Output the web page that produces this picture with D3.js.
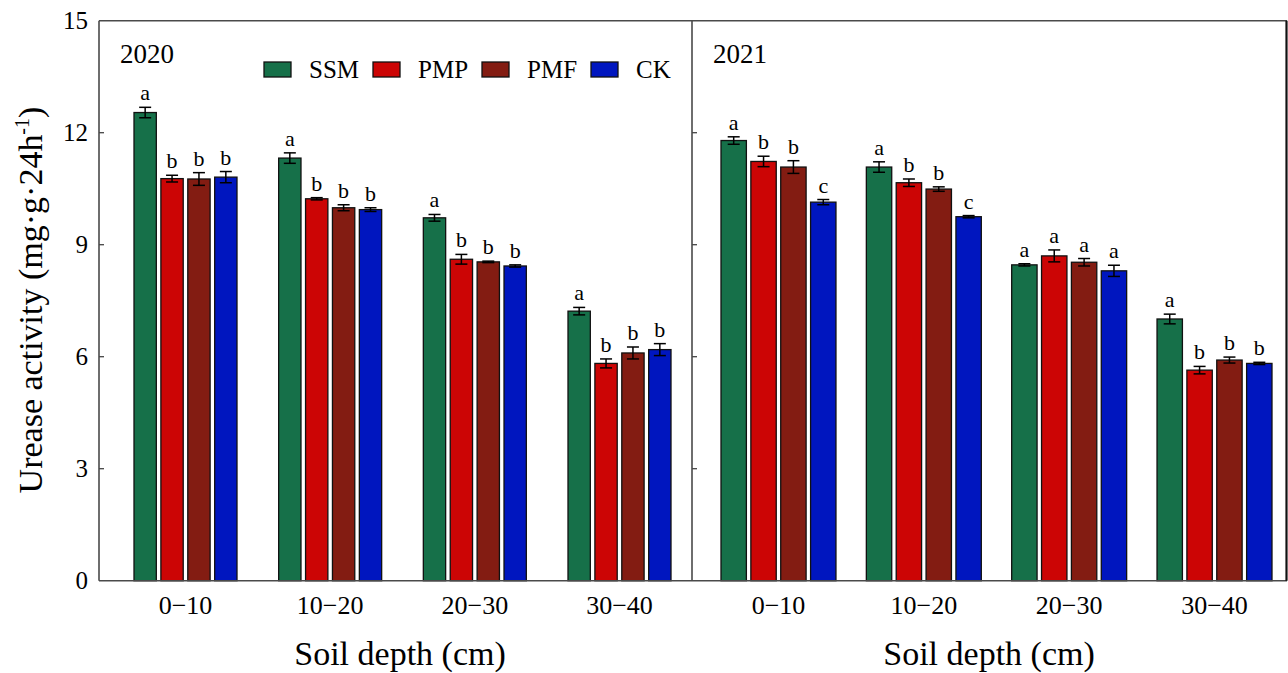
<!doctype html>
<html lang="en">
<head>
  <meta charset="utf-8">
  <style>
    body { margin: 0; background: #fff; }
    text { font-family: "Liberation Serif", "Times New Roman", serif; fill: #000; }
  </style>
</head>
<body>
  <script src="https://d3js.org/d3.v7.min.js"></script>
  <div id="chart"></div>
  <script>
    // categories
    var depths = ["0\u221210", "10\u221220", "20\u221230", "30\u221240"];
    var treatments = ["SSM", "PMP", "PMF", "CK"];
    var colors = ["#167049", "#cc0505", "#831c12", "#0016bf"];
    var yTicks = [0, 3, 6, 9, 12, 15];

    // 2020 means / error bars / letters (rows = depth, cols = treatment)
    var mean2020 = [[12.54, 10.77, 10.76, 10.81], [11.32, 10.23, 9.99, 9.94], [9.72, 8.61, 8.54, 8.43], [7.22, 5.82, 6.10, 6.19]];
    var err2020 = [[0.14, 0.09, 0.17, 0.15], [0.14, 0.03, 0.08, 0.05], [0.09, 0.13, 0.02, 0.03], [0.10, 0.12, 0.16, 0.16]];
    var sig2020 = [["a", "b", "b", "b"], ["a", "b", "b", "b"], ["a", "b", "b", "b"], ["a", "b", "b", "b"]];

    // 2021
    var mean2021 = [[11.79, 11.23, 11.08, 10.14], [11.08, 10.66, 10.49, 9.75], [8.46, 8.70, 8.53, 8.30], [7.01, 5.64, 5.91, 5.82]];
    var err2021 = [[0.10, 0.14, 0.17, 0.07], [0.14, 0.10, 0.06, 0.03], [0.03, 0.16, 0.10, 0.15], [0.13, 0.10, 0.08, 0.03]];
    var sig2021 = [["a", "b", "b", "c"], ["a", "b", "b", "c"], ["a", "a", "a", "a"], ["a", "b", "b", "b"]];

    var width = 1288, height = 673;
    var top0 = 20.7, bottom0 = 580.7;

    var svg = d3.select("#chart").append("svg")
      .attr("width", width)
      .attr("height", height);

    var y = d3.scaleLinear().domain([0, 15]).range([bottom0, top0]);

    // panel settings: frame edges, range covered by the bar groups, spacing
    var panels = [
      { year: "2020", left: 99, right: 692, g0: 134, g1: 671, pad: 0.288, barPad: 0.17,
        mean: mean2020, err: err2020, sig: sig2020, titleX: 400 },
      { year: "2021", left: 692, right: 1287, g0: 721, g1: 1272, pad: 0.209, barPad: 0.15,
        mean: mean2021, err: err2021, sig: sig2021, titleX: 989 }
    ];

    panels.forEach(function (p, pi) {
      var x0 = d3.scaleBand().domain(depths).range([p.g0, p.g1]).paddingInner(p.pad).paddingOuter(0);
      var x1 = d3.scaleBand().domain(treatments).range([0, x0.bandwidth()]).paddingInner(p.barPad).paddingOuter(0);

      var rows = [];
      depths.forEach(function (d, i) {
        treatments.forEach(function (t, j) {
          rows.push({ depth: d, trt: t, j: j, v: p.mean[i][j], e: p.err[i][j], s: p.sig[i][j] });
        });
      });

      var g = svg.append("g").attr("class", "panel-" + p.year);

      // bars
      g.selectAll("rect.bar").data(rows).enter()
        .append("rect")
        .attr("class", "bar")
        .attr("x", function (d) { return x0(d.depth) + x1(d.trt); })
        .attr("y", function (d) { return y(d.v); })
        .attr("width", x1.bandwidth())
        .attr("height", function (d) { return y(0) - y(d.v); })
        .attr("fill", function (d) { return colors[d.j]; })
        .attr("stroke", "#111")
        .attr("stroke-width", 1.3);

      // error bars
      var cx = function (d) { return x0(d.depth) + x1(d.trt) + x1.bandwidth() / 2; };
      var eb = g.selectAll("g.err").data(rows).enter().append("g").attr("class", "err")
        .attr("stroke", "#000").attr("stroke-width", 1.5);
      eb.append("line")
        .attr("x1", cx).attr("x2", cx)
        .attr("y1", function (d) { return y(d.v + d.e); })
        .attr("y2", function (d) { return y(d.v - d.e); });
      eb.append("line")
        .attr("x1", function (d) { return cx(d) - 6; }).attr("x2", function (d) { return cx(d) + 6; })
        .attr("y1", function (d) { return y(d.v + d.e); })
        .attr("y2", function (d) { return y(d.v + d.e); });
      eb.append("line")
        .attr("x1", function (d) { return cx(d) - 6; }).attr("x2", function (d) { return cx(d) + 6; })
        .attr("y1", function (d) { return y(d.v - d.e); })
        .attr("y2", function (d) { return y(d.v - d.e); });

      // significance letters
      g.selectAll("text.sig").data(rows).enter()
        .append("text")
        .attr("class", "sig")
        .attr("x", cx)
        .attr("y", function (d) { return y(d.v + d.e) - 7; })
        .attr("text-anchor", "middle")
        .style("font-size", "22px")
        .text(function (d) { return d.s; });

      // x category labels
      g.selectAll("text.xlab").data(depths).enter()
        .append("text")
        .attr("class", "xlab")
        .attr("x", function (d) { return x0(d) + x0.bandwidth() / 2; })
        .attr("y", 614)
        .attr("text-anchor", "middle")
        .style("font-size", "26px")
        .text(function (d) { return d; });

      // x axis title
      g.append("text")
        .attr("x", p.titleX)
        .attr("y", 665)
        .attr("text-anchor", "middle")
        .style("font-size", "34px")
        .text("Soil depth (cm)");

      // year label
      g.append("text")
        .attr("x", p.left + 21)
        .attr("y", 63)
        .style("font-size", "27px")
        .text(p.year);

      // inward ticks on the left edge of each panel
      g.selectAll("line.tick").data(yTicks.slice(1, -1)).enter()
        .append("line")
        .attr("x1", p.left).attr("x2", p.left + 5)
        .attr("y1", function (d) { return y(d); })
        .attr("y2", function (d) { return y(d); })
        .attr("stroke", "#444").attr("stroke-width", 1.3);
    });

    // frame
    var frame = svg.append("g").attr("fill", "none").attr("stroke", "#4a4a4a").attr("stroke-width", 1.6);
    frame.append("line").attr("x1", 99).attr("x2", 1287).attr("y1", top0).attr("y2", top0);
    frame.append("line").attr("x1", 99).attr("x2", 1287).attr("y1", bottom0).attr("y2", bottom0);
    frame.append("line").attr("x1", 99).attr("x2", 99).attr("y1", top0).attr("y2", bottom0);
    frame.append("line").attr("x1", 692).attr("x2", 692).attr("y1", top0).attr("y2", bottom0);
    frame.append("line").attr("x1", 1286.5).attr("x2", 1286.5).attr("y1", top0).attr("y2", bottom0)
      .attr("stroke", "#111").attr("stroke-width", 2.2);

    // y tick labels
    svg.selectAll("text.ytick").data(yTicks).enter()
      .append("text")
      .attr("class", "ytick")
      .attr("x", 88)
      .attr("y", function (d) { return y(d); })
      .attr("dy", "0.35em")
      .attr("text-anchor", "end")
      .style("font-size", "25px")
      .text(function (d) { return d; });

    // y axis title
    var yl = svg.append("text")
      .attr("transform", "translate(42,300) rotate(-90)")
      .attr("text-anchor", "middle")
      .style("font-size", "34px");
    yl.append("tspan").text("Urease activity (mg\u00b7g\u00b724h");
    yl.append("tspan").attr("dy", -13).style("font-size", "20px").text("-1");
    yl.append("tspan").attr("dy", 13).text(")");

    // legend
    var legX = d3.scaleBand().domain(treatments).range([264, 700]);
    var leg = svg.selectAll("g.leg").data(treatments).enter()
      .append("g").attr("class", "leg")
      .attr("transform", function (d) { return "translate(" + legX(d) + ",62)"; });
    leg.append("rect")
      .attr("width", 27).attr("height", 15)
      .attr("fill", function (d, i) { return colors[i]; })
      .attr("stroke", "#111").attr("stroke-width", 1.3);
    leg.append("text")
      .attr("x", 45).attr("y", 7.5).attr("dy", "0.35em")
      .style("font-size", "25px")
      .text(function (d) { return d; });
  </script>
</body>
</html>
